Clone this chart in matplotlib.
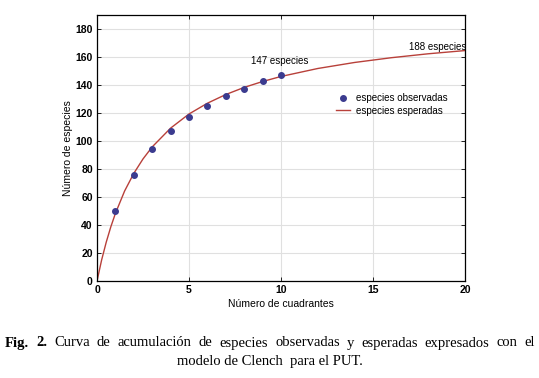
import matplotlib
matplotlib.use('Agg')
import matplotlib.pyplot as plt

# observed species per quadrant count
cuadrantes = [1, 2, 3, 4, 5, 6, 7, 8, 9, 10]
observadas = [50, 76, 94, 107, 117, 125, 132, 137, 143, 147]

# expected species (Clench curve)
n_esperadas = [0, 0.25, 0.5, 0.75, 1, 1.5, 2, 2.5, 3, 4, 5, 6, 7, 8, 9, 10, 12, 14, 16, 18, 20]
esperadas = [0, 15.0, 27.7, 38.7, 48.3, 64.3, 76.9, 87.2, 95.8, 109.2, 119.3, 127.0,
             133.2, 138.3, 142.5, 146.1, 151.8, 156.1, 159.5, 162.3, 164.6]

x_ticks = [0, 5, 10, 15, 20]
y_ticks = [0, 20, 40, 60, 80, 100, 120, 140, 160, 180]

caption_1 = 'Curva de acumulación de especies observadas y esperadas expresados con el'
caption_2 = 'modelo de Clench  para el PUT.'

plt.rcParams['font.family'] = ['Liberation Sans', 'DejaVu Sans']

fig = plt.figure(figsize=(5.39, 3.78), dpi=100)
ax = fig.add_axes([0.18, 0.2566, 0.6827, 0.7037])

ax.plot(n_esperadas, esperadas, color='#b8403a', lw=1.0, label='especies esperadas', zorder=2)
ax.plot(cuadrantes, observadas, 'o', color='#3b3b8f', ms=4, label='especies observadas', zorder=3)

ax.set_xlim(0, 20)
ax.set_ylim(0, 190)
ax.set_xticks(x_ticks)
ax.set_yticks(y_ticks)
ax.grid(True, color='#e0e0e0', lw=0.8)
ax.set_axisbelow(True)
ax.tick_params(direction='in', length=3, width=0.6, top=True, right=True,
               labelsize=7.5, pad=3)
for lab in ax.get_xticklabels() + ax.get_yticklabels():
    lab.set_fontweight('bold')
for s in ax.spines.values():
    s.set_linewidth(0.9)

ax.set_xlabel('Número de cuadrantes', fontsize=7.5, labelpad=3)
ax.set_ylabel('Número de especies', fontsize=7.5, labelpad=2)

ax.text(9.95, 157, '147 especies', fontsize=7, ha='center', va='center')
ax.text(20.05, 167, '188 especies', fontsize=7, ha='right', va='center')

h, l = ax.get_legend_handles_labels()
ax.legend(h[::-1], l[::-1], loc='upper left', bbox_to_anchor=(0.625, 0.74), frameon=False,
          fontsize=7, handlelength=1.5, handletextpad=0.6, labelspacing=0.3)

# justified first caption line
fs = 10.5
W = 539.0
y1 = 1 - 343 / 378.0
left, right = 5.0, 535.0
words = [('Fig.', 'bold'), ('2.', 'bold')] + [(w, 'normal') for w in caption_1.split()]
renderer = fig.canvas.get_renderer()
texts = []
widths = []
for w, wt in words:
    t = fig.text(0, y1, w, fontsize=fs, fontweight=wt, family='Liberation Serif',
                 ha='left', va='center')
    texts.append(t)
    widths.append(t.get_window_extent(renderer).width)
gap = (right - left - sum(widths)) / (len(words) - 1)
x = left
for t, wd in zip(texts, widths):
    t.set_x(x / W)
    x += wd + gap

fig.text(0.5, 1 - 361 / 378.0, caption_2, fontsize=fs,
         family='Liberation Serif', ha='center', va='center')

fig.savefig('out.png', dpi=100)
